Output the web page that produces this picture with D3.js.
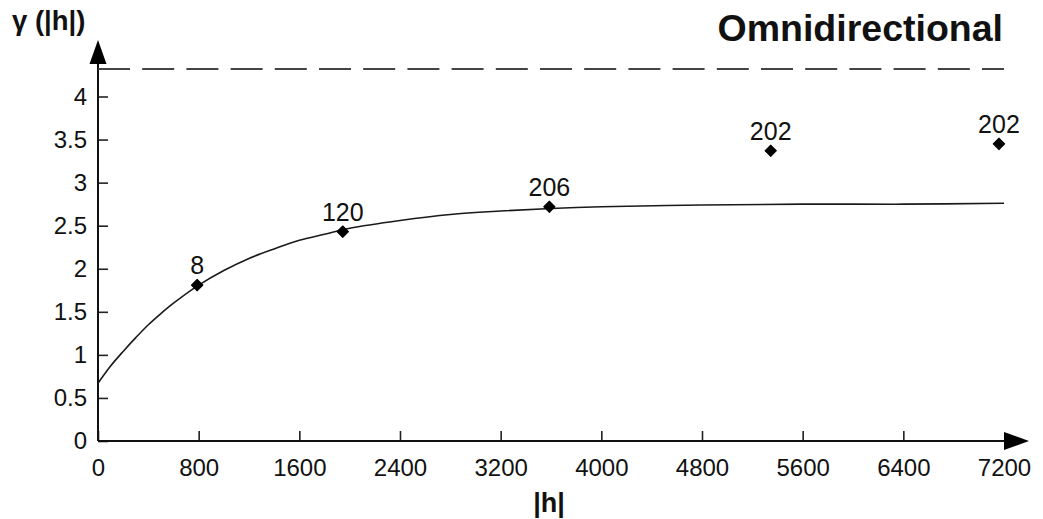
<!DOCTYPE html>
<html>
<head>
<meta charset="utf-8">
<script src="https://cdn.jsdelivr.net/npm/d3@7"></script>
<style>
  html, body { margin: 0; padding: 0; background: #fff; }
  svg { display: block; }
  text { font-family: "Liberation Sans", Arial, sans-serif; fill: #111; }
</style>
</head>
<body>
<svg id="chart" width="1043" height="519"></svg>
<script>
// Experimental variogram: lag distance, semivariance and number of pairs
const lagValues   = [788, 1945, 3587, 5346, 7160];
const gammaValues = [1.81, 2.43, 2.72, 3.37, 3.45];
const pairCounts  = [8, 120, 206, 202, 202];

// Fitted model curve, sampled along the lag axis
const modelLag   = [0, 100, 200, 300, 400, 500, 600, 800, 1000, 1200, 1400, 1600, 1800, 2000, 2400, 2800, 3200, 3600, 4000, 4800, 5600, 6400, 7200];
const modelGamma = [0.67, 0.87, 1.04, 1.20, 1.35, 1.48, 1.60, 1.81, 1.98, 2.12, 2.23, 2.33, 2.40, 2.47, 2.56, 2.63, 2.67, 2.70, 2.72, 2.74, 2.75, 2.75, 2.76];

// Sample variance (dashed reference line)
const sillValue = 4.32;

// Tick values
const xTicks = [0, 800, 1600, 2400, 3200, 4000, 4800, 5600, 6400, 7200];
const yTicks = [0, 0.5, 1, 1.5, 2, 2.5, 3, 3.5, 4];

const titleText = "Omnidirectional";
const xTitle = "|h|";
const yTitle = "γ (|h|)";

const svg = d3.select("#chart");

const x = d3.scaleLinear().domain([0, 7200]).range([98, 1004]);
const y = d3.scaleLinear().domain([0, 4]).range([441, 96.5]);

// Axes: ticks point into the plot area
const xAxis = d3.axisBottom(x)
  .tickValues(xTicks)
  .tickSizeInner(-10)
  .tickSizeOuter(0)
  .tickPadding(18)
  .tickFormat(d3.format("d"));

const yAxis = d3.axisLeft(y)
  .tickValues(yTicks)
  .tickSizeInner(-10)
  .tickSizeOuter(0)
  .tickPadding(11)
  .tickFormat(d => String(d));

const gx = svg.append("g").attr("transform", `translate(0,${y(0)})`).call(xAxis);
const gy = svg.append("g").attr("transform", `translate(${x(0)},0)`).call(yAxis);

[gx, gy].forEach(g => {
  g.select(".domain").remove();
  g.selectAll(".tick line").attr("stroke", "#222").attr("stroke-width", 1.6);
  g.selectAll(".tick text")
    .attr("fill", "#111")
    .style("font-family", "'Liberation Sans', Arial, sans-serif")
    .style("font-size", "24px");
});
// 7200 tick sits under the arrow head
gx.selectAll(".tick").filter(d => d === 7200).select("line").remove();

// Axis lines with arrow heads
svg.append("line")
  .attr("x1", x(0)).attr("y1", y(0))
  .attr("x2", x(0)).attr("y2", 58)
  .attr("stroke", "#111").attr("stroke-width", 2);
svg.append("path")
  .attr("d", `M${x(0)},40 L${x(0) + 8.5},64 L${x(0) - 8.5},64 Z`)
  .attr("fill", "#000");

svg.append("line")
  .attr("x1", x(0)).attr("y1", y(0))
  .attr("x2", 1010).attr("y2", y(0))
  .attr("stroke", "#111").attr("stroke-width", 2);
svg.append("path")
  .attr("d", `M1029,${y(0)} L1004,${y(0) - 9} L1004,${y(0) + 9} Z`)
  .attr("fill", "#000");

// Dashed sill line
svg.append("line")
  .attr("x1", x(0)).attr("x2", x(7200))
  .attr("y1", y(sillValue)).attr("y2", y(sillValue))
  .attr("stroke", "#444").attr("stroke-width", 2)
  .attr("stroke-dasharray", "32,12.2");

// Model curve
const modelPts = modelLag.map((h, i) => [h, modelGamma[i]]);
svg.append("path")
  .datum(modelPts)
  .attr("fill", "none")
  .attr("stroke", "#1a1a1a")
  .attr("stroke-width", 1.6)
  .attr("d", d3.line().x(d => x(d[0])).y(d => y(d[1])).curve(d3.curveCatmullRom.alpha(0.5)));

// Experimental points
const pts = lagValues.map((h, i) => ({ h, g: gammaValues[i], n: pairCounts[i] }));
const diamond = d3.symbol().type(d3.symbolSquare).size(66);
svg.append("g").selectAll("path")
  .data(pts).join("path")
  .attr("d", diamond)
  .attr("transform", d => `translate(${x(d.h)},${y(d.g)}) rotate(45)`)
  .attr("fill", "#000")
  .attr("stroke", "#000")
  .attr("stroke-width", 1)
  .attr("stroke-linejoin", "round");

svg.append("g").selectAll("text")
  .data(pts).join("text")
  .attr("x", d => x(d.h))
  .attr("y", d => y(d.g) - 11)
  .attr("text-anchor", "middle")
  .style("font-size", "25px")
  .text(d => d.n);

// Titles
svg.append("text")
  .attr("x", 1003).attr("y", 41)
  .attr("text-anchor", "end")
  .style("font-size", "37.5px").style("font-weight", "bold")
  .text(titleText);

svg.append("text")
  .attr("x", 549).attr("y", 512)
  .attr("text-anchor", "middle")
  .style("font-size", "27px").style("font-weight", "bold")
  .text(xTitle);

svg.append("text")
  .attr("x", 12).attr("y", 30)
  .style("font-size", "27.5px").style("font-weight", "bold")
  .text(yTitle);
</script>
</body>
</html>
